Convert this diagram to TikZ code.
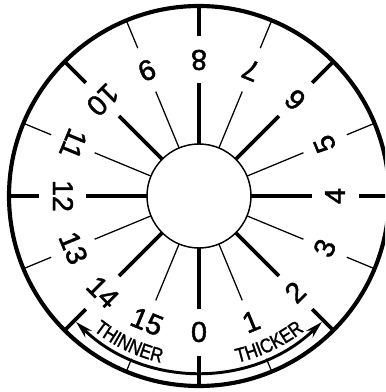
\documentclass[tikz,border=0pt]{standalone}
\usepackage{fontspec}
\setmainfont{Liberation Sans}
\newfontfamily\dialfont{Liberation Sans}[FakeBold=1.6]
\usetikzlibrary{arrows.meta}
\begin{document}
\begin{tikzpicture}[x=0.75pt,y=0.75pt,
  thinspoke/.style={line width=0.95pt},
  thickspoke/.style={line width=2.7pt},
  rim/.style={line width=3.1pt},
  hub/.style={line width=1.1pt},
  arrowarc/.style={line width=2.2pt},
  numlabel/.style={font=\dialfont\fontsize{21.5}{21.5}\selectfont, inner sep=0pt},
  curvelabel/.style={font=\dialfont\fontsize{15}{15}\selectfont, inner sep=0pt, anchor=base},
  dialtip/.tip={Stealth[length=13pt,width=7pt]}
]
\useasboundingbox (0,0) rectangle (385,392);
\clip (0,0) rectangle (385,392);
\begin{scope}[shift={(199,196)}]
  % spokes
  \foreach \k in {0,...,15}{
    \pgfmathsetmacro{\a}{-90+22.5*\k}
    \pgfmathtruncatemacro{\odd}{mod(\k,2)}
    \ifnum\odd=1
      \draw[thinspoke] (\a:52) -- (\a:113);
    \else
      \draw[thickspoke] (\a:52) -- (\a:113);
    \fi
  }
  % outer spoke segments
  \foreach \k in {0,2,4,6,8,10,12,14}{
    \pgfmathsetmacro{\a}{-90+22.5*\k}
    \draw[thickspoke] (\a:160) -- (\a:190);
  }
  \foreach \k in {3,5,7,9,11,13}{
    \pgfmathsetmacro{\a}{-90+22.5*\k}
    \draw[thinspoke] (\a:160) -- (\a:190);
  }
  \foreach \k in {1,15}{
    \pgfmathsetmacro{\a}{-90+22.5*\k}
    \draw[thinspoke] (\a:176) -- (\a:190);
  }
  % numbers
  \foreach \k in {0,...,15}{
    \pgfmathsetmacro{\a}{-90+22.5*\k}
    \pgfmathsetmacro{\r}{22.5*\k}
    \node[numlabel, rotate=\r] (n\k) at (\a:136) {\k};
  }
  % circles
  \draw[hub, fill=white] (0,0) circle[radius=52];
  \draw[rim] (0,0) circle[radius=190];
  % arrow arc
  \draw[arrowarc, dialtip-dialtip] (225.7:176) arc[start angle=225.7, end angle=314.3, radius=176];
  % curved labels
  \foreach \ch/\o [count=\i] in {T/-1.9165, H/-1.25, I/-0.75, N/-0.25, N/0.472, E/1.1665, R/1.861}{
    \pgfmathsetmacro{\a}{244.5+\o*5.7}
    \begin{scope}[shift={(\a:171)}, rotate=\a+90, xscale=0.85, transform shape]
      \node[curvelabel] (thin\i) at (0,0) {\ch};
    \end{scope}
  }
  \foreach \ch/\o [count=\i] in {T/-1.889, H/-1.2225, I/-0.7225, C/-0.2225, K/0.472, E/1.139, R/1.8335}{
    \pgfmathsetmacro{\a}{295.5+\o*5.7}
    \begin{scope}[shift={(\a:171)}, rotate=\a+90, xscale=0.85, transform shape]
      \node[curvelabel] (thick\i) at (0,0) {\ch};
    \end{scope}
  }
\end{scope}
\end{tikzpicture}
\end{document}
